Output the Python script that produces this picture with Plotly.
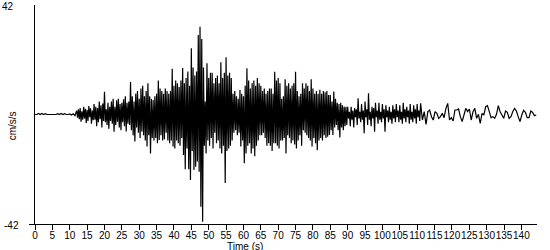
import numpy as np
import plotly.graph_objects as go

# ---- data (cm/s/s) ----
# segment A: pre-event, t = 0 .. 11.5 s, step 0.5 s
pre_start, pre_dt = 0.0, 0.5
accel_pre = [0, 0, 0.4, 0, 0.4, 0, 0.3, 0, 0, 0, 0, 0,
             0, 0.3, 0, 0.4, 0, 0.3, 0, 0, 0.2, -0.2, 0.3, -0.4]

# segment B: strong motion, t = 12 .. 89.75 s, step 0.25 s
strong_start, strong_dt = 12.0, 0.25
accel_strong = [
    1.5, -1.2, 2.0, -1.8,   2.5, -2.8, 1.2, -2.0,   3.0, -1.5, 2.2, -3.2,
    1.8, -2.5, 3.2, -1.0,   2.4, -3.5, 1.5, -2.2,   4.0, -2.0, 3.0, -4.5,
    2.5, -3.0, 5.0, -1.8,   3.5, -5.0, 4.2, -2.5,   8.7, -3.0, 2.0, -4.0,
    4.5, -5.5, 3.0, -2.5,   5.0, -3.5, 6.0, -6.6,   3.0, -4.0, 5.5, -2.8,
    6.0, -5.0, 4.0, -6.0,   4.5, -3.0, 5.8, -4.5,   7.0, -6.5, 4.5, -3.5,
    5.0, -4.0, 12.5, -6.0,  7.0, -8.0, 5.0, -10.4,  8.0, -5.0, 9.0, -7.0,
    6.0, -9.0, 10.0, -6.5,  11.0, -8.0, 7.0, -10.0, 9.0, -12.3, 12.0, -8.0,
    7.0, -15.0, 6.0, -9.0,  5.6, -10.0, 7.0, -9.0,  8.0, -11.0, 13.0, -9.8,
    10.0, -8.0, 9.0, -10.0, 8.0, -9.5, 10.0, -7.0,  9.0, -10.0, 8.0, -11.0,
    9.0, -10.0, 17.5, -12.3, 11.0, -13.0, 13.0, -10.0, 12.0, -11.0, 10.5, -12.0,
    13.0, -9.0, 17.8, -15.5, 12.0, -21.0, 14.0, -13.0, 16.5, -21.0, 11.0, -25.1,
    25.4, -14.0, 18.0, -21.3, 15.0, -20.0, 16.5, -18.0, 30.5, -22.0, 33.7, -35.4,
    29.0, -41.1, 18.0, -12.0, 5.0, -15.0, 19.7, -10.0, 14.0, -12.0, 16.0, -9.0,
    16.0, -13.0, 12.0, -7.0, 14.0, -11.0, 15.0, -10.0, 12.0, -13.0, 20.0, -15.0,
    14.0, -12.0, 16.0, -26.3, 22.0, -14.0, 15.0, -13.0, 16.0, -12.0, 14.0, -10.0,
    8.0, -7.0, 9.0, -6.0,   7.0, -8.0, 6.0, -7.0,   9.4, -12.3, 8.0, -10.0,
    7.0, -18.7, 11.0, -15.0, 17.7, -12.0, 13.0, -11.0, 10.0, -15.0, 12.0, -13.0,
    13.0, -16.0, 11.0, -12.0, 14.0, -10.0, 12.0, -8.0, 11.0, -8.0, 9.0, -7.0,
    10.0, -9.0, 8.0, -12.0, 9.0, -11.0, 10.0, -12.0, 10.0, -14.0, 8.0, -11.0,
    16.4, -11.0, 13.0, -12.0, 14.0, -13.0, 12.0, -10.0, 6.0, -10.0, 7.0, -9.0,
    13.5, -15.0, 11.0, -8.0, 12.0, -9.0, 10.0, -11.0, 11.0, -10.0, 12.0, -11.5,
    16.4, -13.0, 9.0, -10.0, 7.0, -8.0, 8.0, -12.0, 12.0, -6.0, 10.0, -7.0,
    12.0, -8.0, 11.0, -9.0, 9.0, -10.0, 13.5, -12.3, 10.0, -9.0, 8.0, -11.0,
    9.0, -13.7, 8.0, -10.0, 9.5, -9.0, 8.0, -10.0, 9.0, -8.0, 8.5, -9.0,
    9.0, -8.5, 7.5, -7.9,   7.5, -6.0, 5.0, -7.9,   8.8, -5.0, 6.0, -4.0,
    4.5, -6.0, 4.0, -8.8,   4.5, -5.0, 3.5, -6.0,   3.0, -4.5, 3.0, -4.0,
]

# segment C: coda, t = 90 .. 110.75 s, step 0.25 s
coda_start, coda_dt = 90.0, 0.25
accel_coda = [
    3.0, -1.5, 1.0, -4.5,   3.0, -2.0, 1.5, -5.0,   2.5, -1.0, 2.0, -4.0,
    6.2, -1.5, 1.0, -3.0,   4.0, -2.0, 1.5, -7.2,   5.0, -1.0, 2.0, -4.0,
    8.1, -2.0, 1.0, -4.5,   3.0, -1.5, 2.5, -6.6,   4.5, -1.0, 1.5, -3.5,
    4.5, -2.0, 1.0, -3.0,   4.0, -1.5, 2.0, -6.6,   3.5, -1.0, 1.5, -3.0,
    3.0, -2.0, 1.0, -3.5,   3.5, -1.5, 2.0, -3.0,   4.0, -1.0, 1.5, -3.0,
    3.5, -2.0, 1.0, -3.5,   4.5, -1.5, 2.0, -3.0,   3.0, -1.0, 1.5, -3.5,
    4.0, -2.0, 1.0, -3.0,   3.5, -1.5, 2.0, -3.5,   4.0, -1.0, 1.5, -2.5,
]

# segment D: tail, t = 111 .. ~144 s, step 0.52 s
tail_start, tail_dt = 111.0, 0.52
accel_tail = [4.28, -2.11, 1.09, -3.77, 1.09, 1.73, -0.83, -2.11, 1.09, 0.45,
              -1.47, -0.83, 0.45, -1.22, 2.37, 4.28, -2.11, -1.22, -2.49, 1.73,
              1.73, 2.11, -0.83, -2.75, -0.19, 2.37, 1.09, 2.11, -2.11, 1.09,
              2.37, -1.47, 0.06, -3.39, 0.45, -0.19, 3.01, 3.39, 1.09, -1.22,
              -0.83, -1.47, 0.06, 3.39, 1.09, -0.19, -1.47, 1.34, 0.83, -1.47,
              -0.83, 1.09, 2.37, 1.34, -0.83, -2.75, -0.19, 1.60, 0.83, -1.22,
              -1.22, 1.34, 0.83, -0.45, -0.19]

x_ticks = list(range(0, 145, 5))
y_ticks = [-42, 42]

segments = [(pre_start, pre_dt, accel_pre), (strong_start, strong_dt, accel_strong),
            (coda_start, coda_dt, accel_coda), (tail_start, tail_dt, accel_tail)]
t_all, a_all = [], []
for start, dt, vals in segments:
    t_all.extend((start + dt * np.arange(len(vals))).tolist())
    a_all.extend(vals)

FONT = "Liberation Sans, Arial, sans-serif"

fig = go.Figure(go.Scatter(x=t_all, y=a_all, mode="lines",
                           line=dict(color="black", width=1.2, simplify=False),
                           hoverinfo="skip"))

annotations = [
    dict(text="cm/s/s", xref="paper", yref="paper", x=-0.044, y=0.45,
         xanchor="center", yanchor="middle", textangle=-90,
         showarrow=False, font=dict(size=10)),
    dict(text="Time (s)", xref="paper", yref="paper", x=0.418, y=0.0,
         xanchor="center", yanchor="top", yshift=-15,
         showarrow=False, font=dict(size=10)),
]
# y tick labels (top one sits on the plot edge, drawn as annotations)
for v, xs in zip(y_ticks, [-14, -19]):
    annotations.append(dict(text=str(v), xref="paper", yref="y", x=0, y=v,
                            xanchor="right", yanchor="middle", xshift=xs, yshift=-1.5,
                            showarrow=False, font=dict(size=10)))

fig.update_layout(
    width=550, height=250,
    margin=dict(l=35, r=13, t=5, b=26),
    paper_bgcolor="white", plot_bgcolor="white",
    showlegend=False,
    font=dict(family=FONT, size=10, color="black"),
    xaxis=dict(range=[0, 144.5], tickmode="array", tickvals=x_ticks,
               ticktext=[str(v) for v in x_ticks], tickangle=0,
               ticks="outside", ticklen=5, tickcolor="black", tickwidth=1,
               showline=True, linecolor="black", linewidth=1,
               showgrid=False, zeroline=False, tickfont=dict(size=10),
               ticklabelstandoff=-3),
    yaxis=dict(range=[-42, 42], tickmode="array", tickvals=[y_ticks[0]],
               showticklabels=False,
               ticks="outside", ticklen=5, tickcolor="black", tickwidth=1,
               showline=True, linecolor="black", linewidth=1,
               showgrid=False, zeroline=False),
    annotations=annotations,
)

fig.write_html("out.html")
